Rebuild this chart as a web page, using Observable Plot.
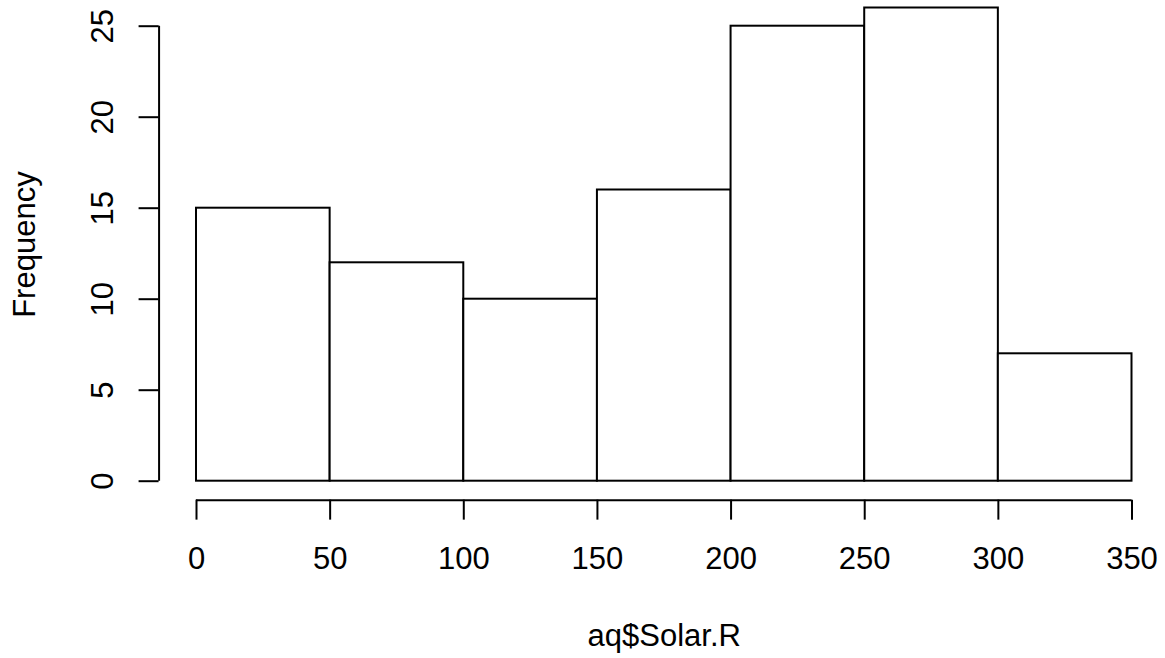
<!DOCTYPE html>
<html>
<head>
<meta charset="utf-8">
<script src="https://cdn.jsdelivr.net/npm/d3@7"></script>
<script src="https://cdn.jsdelivr.net/npm/@observablehq/plot@0.6"></script>
<style>
  html, body { margin: 0; padding: 0; background: #ffffff; }
  #chart svg { display: block; }
</style>
</head>
<body>
<div id="chart"></div>
<script>
// ---- data ----
const breaks = [0, 50, 100, 150, 200, 250, 300, 350];
const counts = [15, 12, 10, 16, 25, 26, 7];
const xTicks = [0, 50, 100, 150, 200, 250, 300, 350];
const yTicks = [0, 5, 10, 15, 20, 25];
const xLabel = "aq$Solar.R";
const yLabel = "Frequency";

// ---- layout ----
const W = 1165, H = 658;
const xDomain = [0, 350], xRange = [196, 1131.5];
const yDomain = [0, 25], yRange = [480.7, 25.7];
const pxPerX = (xRange[1] - xRange[0]) / (xDomain[1] - xDomain[0]);
const pxPerY = (yRange[0] - yRange[1]) / (yDomain[1] - yDomain[0]);
const yMax = d3.max(counts);
// R-style usr extension of 4%
const xSpan = breaks[breaks.length - 1] - breaks[0];
const xUsr0 = breaks[0] - 0.04 * xSpan;
const xUsr1 = breaks[breaks.length - 1] + 0.04 * xSpan;
const yUsr0 = 0 - 0.04 * yMax;
const yUsr1 = yMax + 0.04 * yMax;
const tickLenPx = 20;
const tickLenX = tickLenPx / pxPerX;
const tickLenY = tickLenPx / pxPerY;

const bins = counts.map((c, i) => ({x1: breaks[i], x2: breaks[i + 1], count: c}));

const font = "'Liberation Sans', Arial, Helvetica, sans-serif";
const fs = 31;
const lw = 2;

const chart = Plot.plot({
  width: W,
  height: H,
  marginTop: 0, marginRight: 0, marginBottom: 0, marginLeft: 0,
  style: {background: "#ffffff", fontFamily: font, fontSize: fs + "px", color: "#000"},
  x: {domain: xDomain, range: xRange, axis: null},
  y: {domain: yDomain, range: yRange, axis: null},
  marks: [
    // histogram bars
    Plot.rect(bins, {x1: "x1", x2: "x2", y1: 0, y2: "count", fill: "#ffffff", stroke: "#000000", strokeWidth: lw}),
    // y axis line
    Plot.ruleX([xUsr0], {y1: yTicks[0], y2: yTicks[yTicks.length - 1], stroke: "#000", strokeWidth: lw}),
    // y ticks
    Plot.ruleY(yTicks, {y: d => d, x1: xUsr0 - tickLenX, x2: xUsr0, stroke: "#000", strokeWidth: lw}),
    // y tick labels
    Plot.text(yTicks, {x: xUsr0, y: d => d, text: d => String(d), dx: -56, rotate: -90,
      textAnchor: "middle", lineAnchor: "middle", fontSize: fs, fill: "#000"}),
    // x axis line
    Plot.ruleY([yUsr0], {x1: xTicks[0], x2: xTicks[xTicks.length - 1], stroke: "#000", strokeWidth: lw}),
    // x ticks
    Plot.ruleX(xTicks, {x: d => d, y1: yUsr0, y2: yUsr0 - tickLenY, stroke: "#000", strokeWidth: lw}),
    // x tick labels
    Plot.text(xTicks, {x: d => d, y: yUsr0, text: d => String(d), dy: 59,
      textAnchor: "middle", lineAnchor: "middle", fontSize: fs, fill: "#000"}),
    // x axis title
    Plot.text([xLabel], {x: (xUsr0 + xUsr1) / 2, y: yUsr0, text: d => d, dy: 136,
      textAnchor: "middle", lineAnchor: "middle", fontSize: fs, fill: "#000"}),
    // y axis title
    Plot.text([yLabel], {x: xUsr0, y: (yUsr0 + yUsr1) / 2, text: d => d, dx: -134, rotate: -90,
      textAnchor: "middle", lineAnchor: "middle", fontSize: fs, fill: "#000"})
  ]
});

document.getElementById("chart").appendChild(chart);
</script>
</body>
</html>
